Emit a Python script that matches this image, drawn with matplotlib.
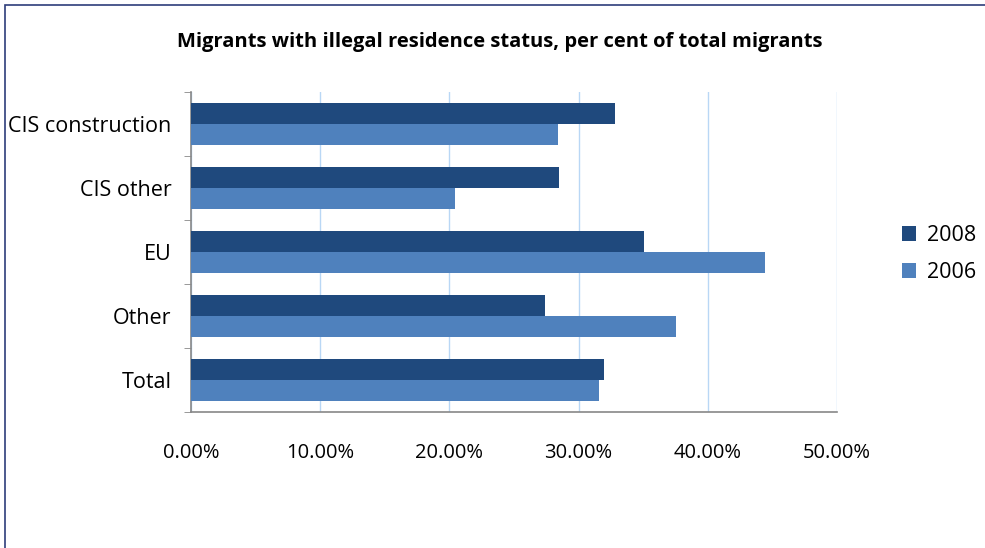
import matplotlib
matplotlib.use("Agg")
import matplotlib.pyplot as plt
from matplotlib.patches import Rectangle
from matplotlib.ticker import FuncFormatter
import numpy as np

categories = ["CIS construction", "CIS other", "EU", "Other", "Total"]
share_2008 = [32.8, 28.5, 35.1, 27.4, 32.0]
share_2006 = [28.4, 20.4, 44.4, 37.5, 31.6]
x_ticks = [0, 10, 20, 30, 40, 50]

C2008 = "#1F497D"
C2006 = "#4F81BD"

plt.rcParams["font.family"] = ["Open Sans", "DejaVu Sans"]

fig = plt.figure(figsize=(9.85, 5.48), dpi=100)
ax = fig.add_axes([191 / 985, 1 - 412 / 548, (837 - 191) / 985, (412 - 92) / 548])

y = np.arange(len(categories))[::-1].astype(float)
h = 0.33
ax.barh(y + h / 2, share_2008, height=h, color=C2008, label="2008", zorder=3)
ax.barh(y - h / 2, share_2006, height=h, color=C2006, label="2006", zorder=3)

ax.set_xlim(0, 50)
ax.set_ylim(-0.5, len(categories) - 0.5)
ax.set_xticks(x_ticks)
ax.xaxis.set_major_formatter(FuncFormatter(lambda v, p: f"{v:.2f}%"))
ax.set_yticks(y)
ax.set_yticklabels(categories)
ax.set_yticks(np.arange(len(categories) + 1) - 0.5, minor=True)
ax.tick_params(axis="y", which="major", length=0, labelsize=15.5, pad=14)
ax.tick_params(axis="y", which="minor", length=5, color="#888888", direction="out")
ax.tick_params(axis="x", length=0, labelsize=14.5, pad=22)
ax.grid(axis="x", color="#B9D7F5", linewidth=1, zorder=0)
for s in ["top", "right"]:
    ax.spines[s].set_visible(False)
for s in ["left", "bottom"]:
    ax.spines[s].set_color("#888888")
    ax.spines[s].set_linewidth(1.2)

fig.text(500 / 985, 1 - 42 / 548, "Migrants with illegal residence status, per cent of total migrants",
         ha="center", va="center", fontsize=14.5, fontweight="bold")

handles, labels = ax.get_legend_handles_labels()
fig.legend(handles, labels, loc="center left", bbox_to_anchor=(902 / 985, 1 - 254 / 548),
           frameon=False, fontsize=15.5, handlelength=0.65, handleheight=0.65,
           handletextpad=0.5, labelspacing=0.75, borderaxespad=0, borderpad=0)

fig.patches.append(Rectangle((5 / 985, -0.1), 1.2, 1 - 5 / 548 + 0.1, transform=fig.transFigure,
                             fill=False, edgecolor="#2E3D7A", linewidth=1.2))

fig.savefig("out.png", dpi=100)
